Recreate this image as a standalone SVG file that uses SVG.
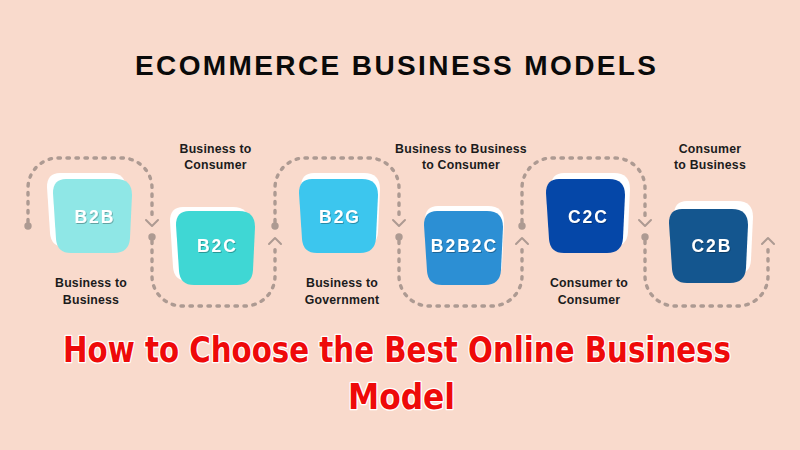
<svg xmlns="http://www.w3.org/2000/svg" xmlns:xlink="http://www.w3.org/1999/xlink" width="800" height="450" viewBox="0 0 800 450">
  <defs>
    <path id="box" d="M -26,-37 H 24 Q 40,-37 40,-21 L 38,22 Q 37,37 22,37 H -21 Q -35,37 -36,23 L -39,-23 Q -39,-37 -26,-37 Z"/>
    <filter id="ts" x="-20%" y="-40%" width="140%" height="180%">
      <feDropShadow dx="0.8" dy="1" stdDeviation="0.7" flood-color="#000" flood-opacity="0.3"/>
    </filter>
  </defs>
  <style>
    .bg { fill: #F9DACC; }
    .shadow { fill: #FFFFFF; }
    .boxtxt { font-family: "Liberation Sans", Arial, sans-serif; font-weight: bold; font-size: 17.5px; letter-spacing: 2px; fill: #FFFFFF; text-anchor: middle; filter: url(#ts); }
    .lbl { font-family: "Liberation Sans", Arial, sans-serif; font-weight: bold; font-size: 12.3px; letter-spacing: 0.2px; fill: #1C1C1C; text-anchor: middle; }
    .title { font-family: "Liberation Sans", Arial, sans-serif; font-weight: bold; font-size: 28px; fill: #0A0A0A; text-anchor: middle; }
    .red { font-family: "DejaVu Sans Condensed", "Liberation Sans Narrow", "DejaVu Sans", sans-serif; font-weight: bold; font-size: 35px; fill: #EE0A0A; stroke: #FFFFFF; stroke-width: 2.5; stroke-linejoin: round; paint-order: stroke; text-anchor: middle; }
    .dash { fill: none; stroke: #AD9A92; stroke-width: 3.4; stroke-dasharray: 2.5 6.5; stroke-linecap: round; }
    .chev { fill: none; stroke: #AD9A92; stroke-width: 2; stroke-linecap: round; stroke-linejoin: round; }
    .dot { fill: #AD9A92; }
  </style>
  <rect class="bg" x="0" y="0" width="800" height="450"/>

  <text class="title" x="395.5" y="75" textLength="521" lengthAdjust="spacing">ECOMMERCE BUSINESS MODELS</text>

  <g id="connectors">
    <path class="dash" d="M28,222 V188 A30,30 0 0 1 58,158 H122 A30,30 0 0 1 152,188 V220"/>
    <path class="dash" d="M152,241 V276 A30,30 0 0 0 182,306 H245 A30,30 0 0 0 275,276 V244"/>
    <path class="dash" d="M275,222 V188 A30,30 0 0 1 305,158 H369 A30,30 0 0 1 399,188 V220"/>
    <path class="dash" d="M399,241 V276 A30,30 0 0 0 429,306 H492 A30,30 0 0 0 522,276 V244"/>
    <path class="dash" d="M522,222 V188 A30,30 0 0 1 552,158 H615 A30,30 0 0 1 645,188 V220"/>
    <path class="dash" d="M645,241 V276 A30,30 0 0 0 675,306 H738 A30,30 0 0 0 768,276 V244"/>
    <path class="chev" d="M146,220 L152,226 L158,220"/>
    <path class="chev" d="M393,220 L399,226 L405,220"/>
    <path class="chev" d="M639,220 L645,226 L651,220"/>
    <path class="chev" d="M269,244 L275,238 L281,244"/>
    <path class="chev" d="M516,244 L522,238 L528,244"/>
    <path class="chev" d="M762,244 L768,238 L774,244"/>
    <circle class="dot" cx="28" cy="226" r="3.7"/>
    <circle class="dot" cx="152" cy="237" r="3.7"/>
    <circle class="dot" cx="275" cy="226" r="3.7"/>
    <circle class="dot" cx="399" cy="237" r="3.7"/>
    <circle class="dot" cx="522" cy="226" r="3.7"/>
    <circle class="dot" cx="645" cy="237" r="3.7"/>
  </g>

  <g id="node-b2b">
    <use xlink:href="#box" class="shadow" transform="translate(86,210)"/>
    <use xlink:href="#box" fill="#8FE7E6" transform="translate(92,216)"/>
    <text class="boxtxt" x="95" y="223">B2B</text>
    <text class="lbl" x="91" y="287">Business to</text>
    <text class="lbl" x="91" y="304">Business</text>
  </g>

  <g id="node-b2c">
    <use xlink:href="#box" class="shadow" transform="translate(209,244)"/>
    <use xlink:href="#box" fill="#3FD7D4" transform="translate(215,248)"/>
    <text class="boxtxt" x="217.5" y="252">B2C</text>
    <text class="lbl" x="215.5" y="153">Business to</text>
    <text class="lbl" x="215.5" y="169">Consumer</text>
  </g>

  <g id="node-b2g">
    <use xlink:href="#box" class="shadow" transform="translate(340,210)"/>
    <use xlink:href="#box" fill="#3CC6EE" transform="translate(338,216)"/>
    <text class="boxtxt" x="340" y="223">B2G</text>
    <text class="lbl" x="342" y="287">Business to</text>
    <text class="lbl" x="342" y="304">Government</text>
  </g>

  <g id="node-b2b2c">
    <use xlink:href="#box" class="shadow" transform="translate(464,243)"/>
    <use xlink:href="#box" fill="#2C8FD4" transform="translate(463,248)"/>
    <text class="boxtxt" x="464.5" y="252">B2B2C</text>
    <text class="lbl" x="461" y="153">Business to Business</text>
    <text class="lbl" x="461" y="169">to Consumer</text>
  </g>

  <g id="node-c2c">
    <use xlink:href="#box" class="shadow" transform="translate(590,210)"/>
    <use xlink:href="#box" fill="#0547A8" transform="translate(585,216)"/>
    <text class="boxtxt" x="588.5" y="223">C2C</text>
    <text class="lbl" x="589" y="287">Consumer to</text>
    <text class="lbl" x="589" y="304">Consumer</text>
  </g>

  <g id="node-c2b">
    <use xlink:href="#box" class="shadow" transform="translate(713,238)"/>
    <use xlink:href="#box" fill="#14568F" transform="translate(708,246)"/>
    <text class="boxtxt" x="712" y="252">C2B</text>
    <text class="lbl" x="710" y="153">Consumer</text>
    <text class="lbl" x="710" y="169">to Business</text>
  </g>

  <text class="red" x="397" y="362" textLength="668" lengthAdjust="spacingAndGlyphs">How to Choose the Best Online Business</text>
  <text class="red" x="401.5" y="409" textLength="107" lengthAdjust="spacingAndGlyphs">Model</text>
</svg>
